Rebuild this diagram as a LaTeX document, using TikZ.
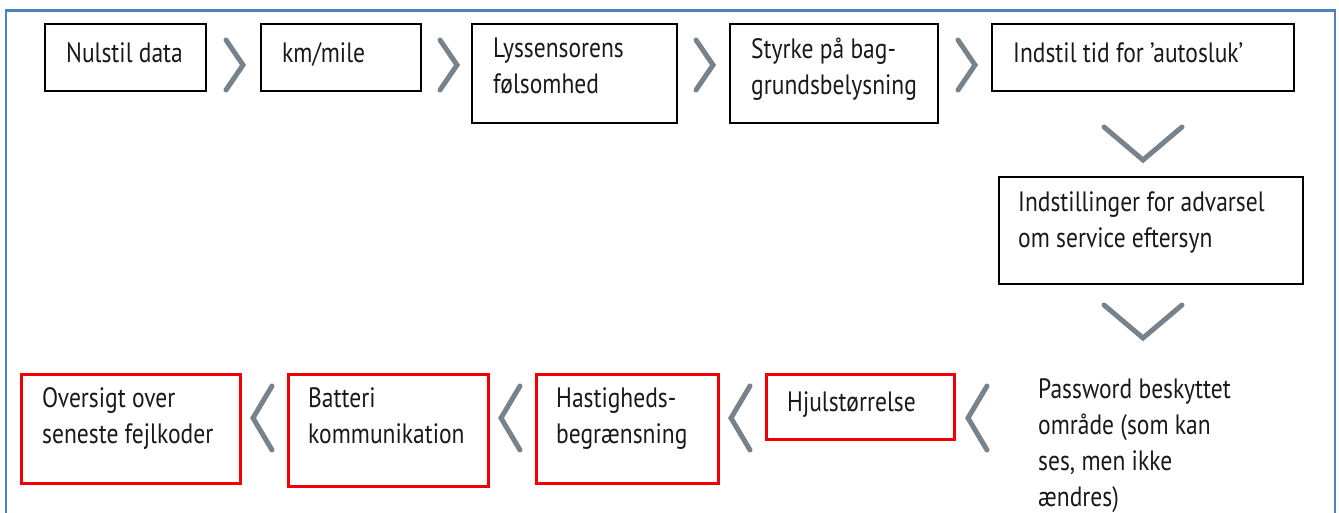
\documentclass[tikz,border=0pt]{standalone}
\usepackage{fontspec}
\setmainfont[FakeStretch=0.84]{PT Sans}
\usetikzlibrary{calc}
\definecolor{framebl}{RGB}{79,129,189}
\definecolor{chevgray}{RGB}{118,130,140}
\definecolor{bred}{RGB}{240,0,0}
\newcommand\mystrut{\rule{0pt}{24pt}}
\begin{document}
\begin{tikzpicture}[x=1pt,y=-1pt,
  bbox/.style={draw=black,line width=2pt,anchor=north west,inner sep=0pt},
  rbox/.style={draw=bred,line width=2.5pt,anchor=north west,inner sep=0pt},
  txt/.style={anchor=north west,inner sep=0pt,align=left,font=\fontsize{28}{36}\selectfont,text=black!90,execute at begin node=\mystrut},
  chev/.style={draw=chevgray,line width=5pt,line cap=round,line join=miter}]
\useasboundingbox (0,0) rectangle (1339,513);
% frame
\draw[framebl,line width=2.5pt] (6,530) -- (6,10.5) -- (1335,10.5) -- (1335,530);
% top row boxes
\node[bbox,minimum width=161pt,minimum height=67pt] (b1) at (44,23) {};
\node[bbox,minimum width=160pt,minimum height=67pt] (b2) at (260,23) {};
\node[bbox,minimum width=205pt,minimum height=99pt] (b3) at (471,23) {};
\node[bbox,minimum width=208pt,minimum height=99pt] (b4) at (729,23) {};
\node[bbox,minimum width=302pt,minimum height=67pt] (b5) at (991,23) {};
\node[bbox,minimum width=304pt,minimum height=107pt] (b6) at (998,176) {};
% bottom row boxes
\node[rbox,minimum width=219pt,minimum height=109pt] (r1) at (20,373) {};
\node[rbox,minimum width=200pt,minimum height=112pt] (r2) at (287,373) {};
\node[rbox,minimum width=182pt,minimum height=109pt] (r3) at (535,373) {};
\node[rbox,minimum width=188pt,minimum height=65pt] (r4) at (765,373) {};
% texts (first baseline 24pt below the node's top)
\node[txt] (t1) at ($(b1.north west)+(22,15)$) {Nulstil data};
\node[txt] (t2) at ($(b2.north west)+(22,15)$) {km/mile};
\node[txt] (t3) at ($(b3.north west)+(22,15)$) {Lyssensorens\\følsomhed};
\node[txt] (t4) at ($(b4.north west)+(22,15)$) {Styrke på bag-\\grundsbelysning};
\node[txt] (t5) at ($(b5.north west)+(22,15)$) {Indstil tid for ’autosluk’};
\node[txt] (t6) at ($(b6.north west)+(20,15)$) {Indstillinger for advarsel\\om service eftersyn};
\node[txt] (u1) at ($(r1.north west)+(22,14)$) {Oversigt over\\seneste fejlkoder};
\node[txt] (u2) at ($(r2.north west)+(21,14)$) {Batteri\\kommunikation};
\node[txt] (u3) at ($(r3.north west)+(21,14)$) {Hastigheds-\\begrænsning};
\node[txt] (u4) at ($(r4.north west)+(22,14)$) {Hjulstørrelse};
\node[txt] (pw) at (1038,378) {Password beskyttet\\område (som kan\\ses, men ikke\\ændres)};
% chevrons top row
\coordinate (c1) at (243,65);
\coordinate (c2) at (457,65);
\coordinate (c3) at (713,65);
\coordinate (c4) at (975,65);
\foreach \c in {c1,c2,c3,c4}
  \draw[chev] ($(\c)+(-17,-25)$) -- (\c) -- ($(\c)+(-17,25)$);
% down chevrons
\coordinate (d1) at (1143,160);
\coordinate (d2) at (1143,338);
\foreach \c in {d1,d2}
  \draw[chev] ($(\c)+(-39,-33)$) -- (\c) -- ($(\c)+(39,-33)$);
% bottom chevrons
\coordinate (e1) at (253,418);
\coordinate (e2) at (501,418);
\coordinate (e3) at (731,418);
\coordinate (e4) at (968,418);
\foreach \c in {e1,e2,e3,e4}
  \draw[chev] ($(\c)+(19,-32)$) -- (\c) -- ($(\c)+(19,32)$);
\end{tikzpicture}
\end{document}
